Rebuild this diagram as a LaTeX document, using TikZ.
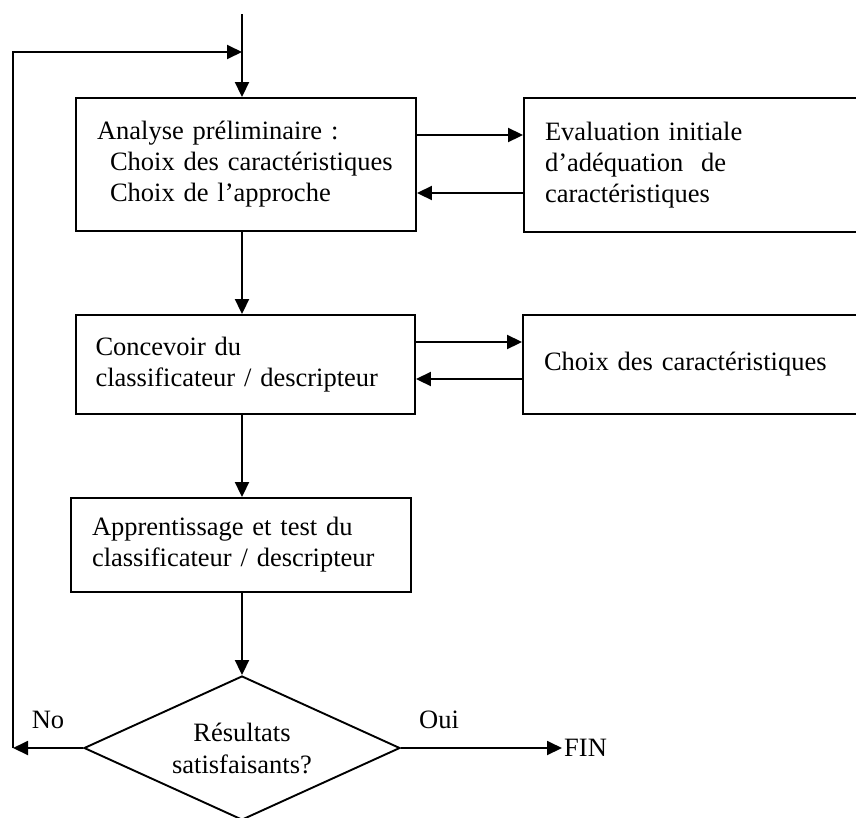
\documentclass[tikz,border=0pt]{standalone}
\usepackage{fontspec}
\setmainfont{Liberation Serif}
\usetikzlibrary{arrows.meta,shapes.geometric}

\tikzset{
  stepbox/.style={draw, line width=1.9pt, rectangle, align=left, inner xsep=0pt,
    font=\fontsize{26.5}{31}\selectfont},
  decision/.style={draw, line width=1.9pt, diamond, aspect=2.2, inner sep=0pt,
    minimum width=316pt, minimum height=144pt, align=center,
    font=\fontsize{26.5}{32}\selectfont},
  lbl/.style={inner sep=2pt, font=\fontsize{26.5}{31}\selectfont},
  arr/.style={line width=1.9pt, -{Triangle[length=15pt,width=14pt]}}
}

\begin{document}
\begin{tikzpicture}[x=1pt,y=-1pt]
  \clip (0,0) rectangle (856,817);
  \fill[white] (0,0) rectangle (856,817);

  % main column of steps
  \node[stepbox, minimum width=340pt, minimum height=133pt, text width=298pt]
    (analyse) at (246,164.5)
    {Analyse préliminaire :\\
     \hspace*{13pt}Choix des caractéristiques\\
     \hspace*{13pt}Choix de l’approche};
  \node[stepbox, minimum width=339pt, minimum height=99pt, text width=300pt]
    (concevoir) at (245.5,364.5)
    {Concevoir du\\classificateur / descripteur};
  \node[stepbox, minimum width=340pt, minimum height=94pt, text width=298pt]
    (apprent) at (241,545)
    {Apprentissage et test du\\classificateur / descripteur};
  \node[decision] (resultats) at (242,748) {Résultats\\satisfaisants?};

  % side boxes (running off the right edge)
  \node[stepbox, minimum width=400pt, minimum height=134pt, text width=358pt]
    (evaluation) at (724,165)
    {Evaluation initiale\\d’adéquation\ \ de\\caractéristiques};
  \node[stepbox, minimum width=400pt, minimum height=99pt, text width=358pt]
    (choix) at (723,364.5)
    {Choix des caractéristiques};

  % end label and branch labels
  \node[lbl, anchor=west] (fin) at (562,748) {FIN};
  \node[lbl] (no) at (48,720) {No};
  \node[lbl] (oui) at (439,720) {Oui};

  % entry and loop-back points
  \coordinate (entry) at (242,14);
  \coordinate (join) at (242,52);
  \coordinate (loopbl) at (13,748);
  \coordinate (looptl) at (13,52);

  % vertical flow
  \draw[arr] (entry) -- (entry |- analyse.north);
  \draw[arr] (analyse.south -| entry) -- (concevoir.north -| entry);
  \draw[arr] (concevoir.south -| entry) -- (apprent.north -| entry);
  \draw[arr] (apprent.south -| entry) -- (resultats.north);

  % exchanges with the side boxes
  \draw[arr] (analyse.east |- 0,135) -- (evaluation.west |- 0,135);
  \draw[arr] (evaluation.west |- 0,193) -- (analyse.east |- 0,193);
  \draw[arr] (concevoir.east |- 0,342) -- (choix.west |- 0,342);
  \draw[arr] (choix.west |- 0,379) -- (concevoir.east |- 0,379);

  % outcomes of the decision
  \draw[arr] (resultats.east) -- (fin.west);
  \draw[arr] (resultats.west) -- (loopbl);
  \draw[arr, line join=miter] (loopbl) -- (looptl) -- (join);
\end{tikzpicture}
\end{document}
